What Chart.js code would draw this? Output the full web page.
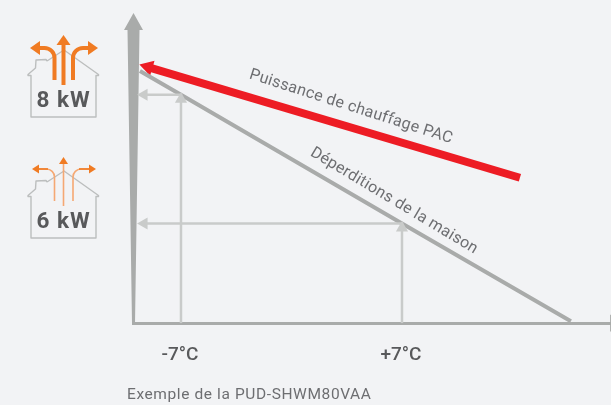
<!DOCTYPE html>
<html><head><meta charset="utf-8">
<script src="https://cdn.jsdelivr.net/npm/chart.js@4"></script>
<style>html,body{margin:0;padding:0;background:#f2f3f5;overflow:hidden}canvas{display:block}</style>
</head><body><canvas id="c" width="611" height="405"></canvas>
<script>
// Temperature (°C) and power (kW)
const tickTemps = [-7, 7];
const tickLabels = ['-7°C', '+7°C'];
const powerLevels = [8, 6];
const powerLabels = ['8 kW', '6 kW'];
const lossX = [-9.6, -7, 7, 17.7];
const lossY = [8.37, 8, 6, 4.48];
const pacX = [14.47, -9.09];
const pacY = [6.71, 8.43];
const guide1X = [-7, -7, -9.34];
const guide1Y = [4.45, 8, 8];
const guide2X = [7, 7, -9.34];
const guide2Y = [4.45, 6, 6];
const xRange = [-10.04, 20.24];
const yRange = [4.45, 9.27];
const xArrowEnd = 20.5;
const lossLabel = 'Déperditions de la maison';
const pacLabel = 'Puissance de chauffage PAC';
const caption = 'Exemple de la PUD-SHWM80VAA';

const pts = (xs, ys) => xs.map((x, i) => ({x, y: ys[i]}));
const ORANGE = '#f07b23', ORANGE_L = '#f5a873', HOUSE = '#bcbebe', AXIS = '#a9abaa', GUIDE = '#c9cbca', TXT = '#6d6e71', DARK = '#58595b';

function house(ctx, dy) {
  ctx.save();
  ctx.translate(0, dy);
  ctx.strokeStyle = HOUSE; ctx.lineWidth = 1.4; ctx.lineJoin = 'round';
  ctx.beginPath();
  ctx.moveTo(47, 61); ctx.lineTo(46, 59.5); ctx.lineTo(36, 60); ctx.lineTo(35.5, 68);
  ctx.lineTo(28, 74.5); ctx.lineTo(28, 75.5); ctx.lineTo(31, 75.5); ctx.lineTo(31, 117);
  ctx.lineTo(96, 117); ctx.lineTo(96, 75.5); ctx.lineTo(98.5, 75.5); ctx.lineTo(98.5, 74.5);
  ctx.lineTo(64, 50); ctx.lineTo(47, 61);
  ctx.stroke();
  ctx.restore();
}
function head(ctx, x, y, dx, dy, len, w, col) {
  ctx.fillStyle = col;
  ctx.beginPath();
  ctx.moveTo(x, y);
  ctx.lineTo(x - dx * len - dy * w / 2, y - dy * len - dx * w / 2);
  ctx.lineTo(x - dx * len + dy * w / 2, y - dy * len + dx * w / 2);
  ctx.fill();
}
function flows(ctx, big) {
  ctx.save();
  const lw = big ? 4 : 1.6, top = big ? 48 : 169, cc = big ? ORANGE : ORANGE_L;
  const yEnd = big ? 80 : 201, yMid = big ? 85 : 206, r = big ? 10 : 8;
  const tipL = big ? 30 : 32, tipR = big ? 98 : 96, hl = big ? 10 : 7, hw = big ? 14 : 9;
  ctx.strokeStyle = cc; ctx.lineWidth = lw;
  ctx.beginPath(); ctx.moveTo(63.5, yMid); ctx.lineTo(63.5, top - (big ? 4 : 6)); ctx.stroke();
  ctx.strokeStyle = cc;
  ctx.beginPath(); ctx.moveTo(54.5, yEnd); ctx.arcTo(54.5, top, 30, top, r); ctx.lineTo(tipL + hl - 1, top); ctx.stroke();
  ctx.beginPath(); ctx.moveTo(73, yEnd); ctx.arcTo(73, top, 98, top, r); ctx.lineTo(tipR - hl + 1, top); ctx.stroke();
  if (!big) {
    ctx.strokeStyle = ORANGE; 
    ctx.beginPath(); ctx.moveTo(48, top); ctx.lineTo(tipL + hl - 1, top); ctx.stroke();
    ctx.beginPath(); ctx.moveTo(79, top); ctx.lineTo(tipR - hl + 1, top); ctx.stroke();
  }
  head(ctx, tipL, top, -1, 0, hl, hw, ORANGE);
  head(ctx, tipR, top, 1, 0, hl, hw, ORANGE);
  head(ctx, 63.5, top - (big ? 13 : 12), 0, -1, hl, hw, ORANGE);
  ctx.restore();
}
const decor = {
  id: 'decor',
  beforeDatasetsDraw(chart) {
    const ctx = chart.ctx, sx = chart.scales.x, sy = chart.scales.y;
    const cx = sx.getPixelForValue(xRange[0]) + 0.5;
    const top = sy.getPixelForValue(yRange[1]), bot = sy.getPixelForValue(yRange[0]);
    ctx.save();
    ctx.fillStyle = AXIS;
    ctx.beginPath();
    ctx.moveTo(cx, top); ctx.lineTo(cx + 9.5, top + 17); ctx.lineTo(cx + 6, top + 17);
    ctx.lineTo(cx + 1.5, bot); ctx.lineTo(cx - 1.5, bot); ctx.lineTo(cx - 6, top + 17);
    ctx.lineTo(cx - 9.5, top + 17); ctx.closePath(); ctx.fill();
    ctx.restore();
  },
  afterDatasetsDraw(chart) {
    const ctx = chart.ctx;
    house(ctx, 0); house(ctx, 121);
    flows(ctx, true); flows(ctx, false);
    ctx.save();
    ctx.fillStyle = DARK; ctx.textAlign = 'center'; ctx.textBaseline = 'middle';
    ctx.font = '700 22.5px Roboto'; ctx.letterSpacing = '1px';
    ctx.fillText(powerLabels[0], 63.5, 101);
    ctx.fillText(powerLabels[1], 63.5, 222.5);
    ctx.fillStyle = TXT; ctx.font = '16px Roboto'; ctx.letterSpacing = '0.3px';
    ctx.save(); ctx.translate(351, 107); ctx.rotate(17.8 * Math.PI / 180); ctx.fillText(pacLabel, 0, 0); ctx.restore();
    ctx.save(); ctx.translate(394, 201); ctx.rotate(31 * Math.PI / 180); ctx.fillText(lossLabel, 0, 0); ctx.restore();
    ctx.textAlign = 'left'; ctx.font = '15.5px Roboto'; ctx.letterSpacing = '0.6px';
    ctx.fillText(caption, 127, 395);
    ctx.restore();
  }
};
new Chart(document.getElementById('c'), {
  type: 'scatter',
  data: { datasets: [
    { label: 'guide -7', data: pts(guide1X, guide1Y), showLine: true, borderColor: GUIDE, borderWidth: 2.5, backgroundColor: GUIDE, borderJoinStyle: 'miter',
      pointRadius: 0 },
    { label: 'guide +7', data: pts(guide2X, guide2Y), showLine: true, borderColor: GUIDE, borderWidth: 2.5, backgroundColor: GUIDE, borderJoinStyle: 'miter',
      pointRadius: 0 },
    { label: 'heads', data: pts([guide1X[1], guide2X[1], guide1X[2], guide2X[2]], [guide1Y[1]-0.07, guide2Y[1]-0.07, guide1Y[2], guide2Y[2]]), showLine: false,
      backgroundColor: GUIDE, borderWidth: 0, pointStyle: 'triangle', pointRadius: 7, pointRotation: [0, 0, -90, -90] },
    { label: lossLabel, data: pts(lossX, lossY), showLine: true, borderColor: AXIS, borderWidth: 4, pointRadius: 0 },
    { label: pacLabel, data: pts(pacX, pacY), showLine: true, borderColor: '#ed1c24', borderWidth: 8, backgroundColor: '#ed1c24',
      pointStyle: 'triangle', pointBorderWidth: 0, pointRadius: [0, 9], pointRotation: [0, -73.5] },
    { label: 'x arrow', data: pts([xRange[1], xArrowEnd], [yRange[0], yRange[0]]), showLine: true, borderColor: AXIS, borderWidth: 3, backgroundColor: AXIS, clip: false,
      pointStyle: 'triangle', pointBorderWidth: 0, pointRadius: [0, 10], pointRotation: [0, 90] }
  ]},
  plugins: [decor],
  options: {
    responsive: false, animation: false,
    layout: { autoPadding: false, padding: { left: 133, top: 13, bottom: 17, right: 0 } },
    plugins: { legend: { display: false }, tooltip: { enabled: false }, title: { display: false } },
    elements: { line: { tension: 0 } },
    scales: {
      x: { type: 'linear', min: xRange[0], max: xRange[1],
        afterBuildTicks(a) { a.ticks = tickTemps.map(v => ({value: v})); },
        grid: { display: false, drawTicks: false },
        border: { display: true, color: AXIS, width: 3 },
        ticks: { padding: 21, labelOffset: -1, maxRotation: 0, autoSkip: false, color: DARK, font: { family: 'Roboto', size: 19, weight: '500' },
          callback: v => tickLabels[tickTemps.indexOf(v)] } },
      y: { type: 'linear', display: false, min: yRange[0], max: yRange[1],
        afterBuildTicks(a) { a.ticks = powerLevels.map(v => ({value: v})); } }
    }
  }
});
</script></body></html>
